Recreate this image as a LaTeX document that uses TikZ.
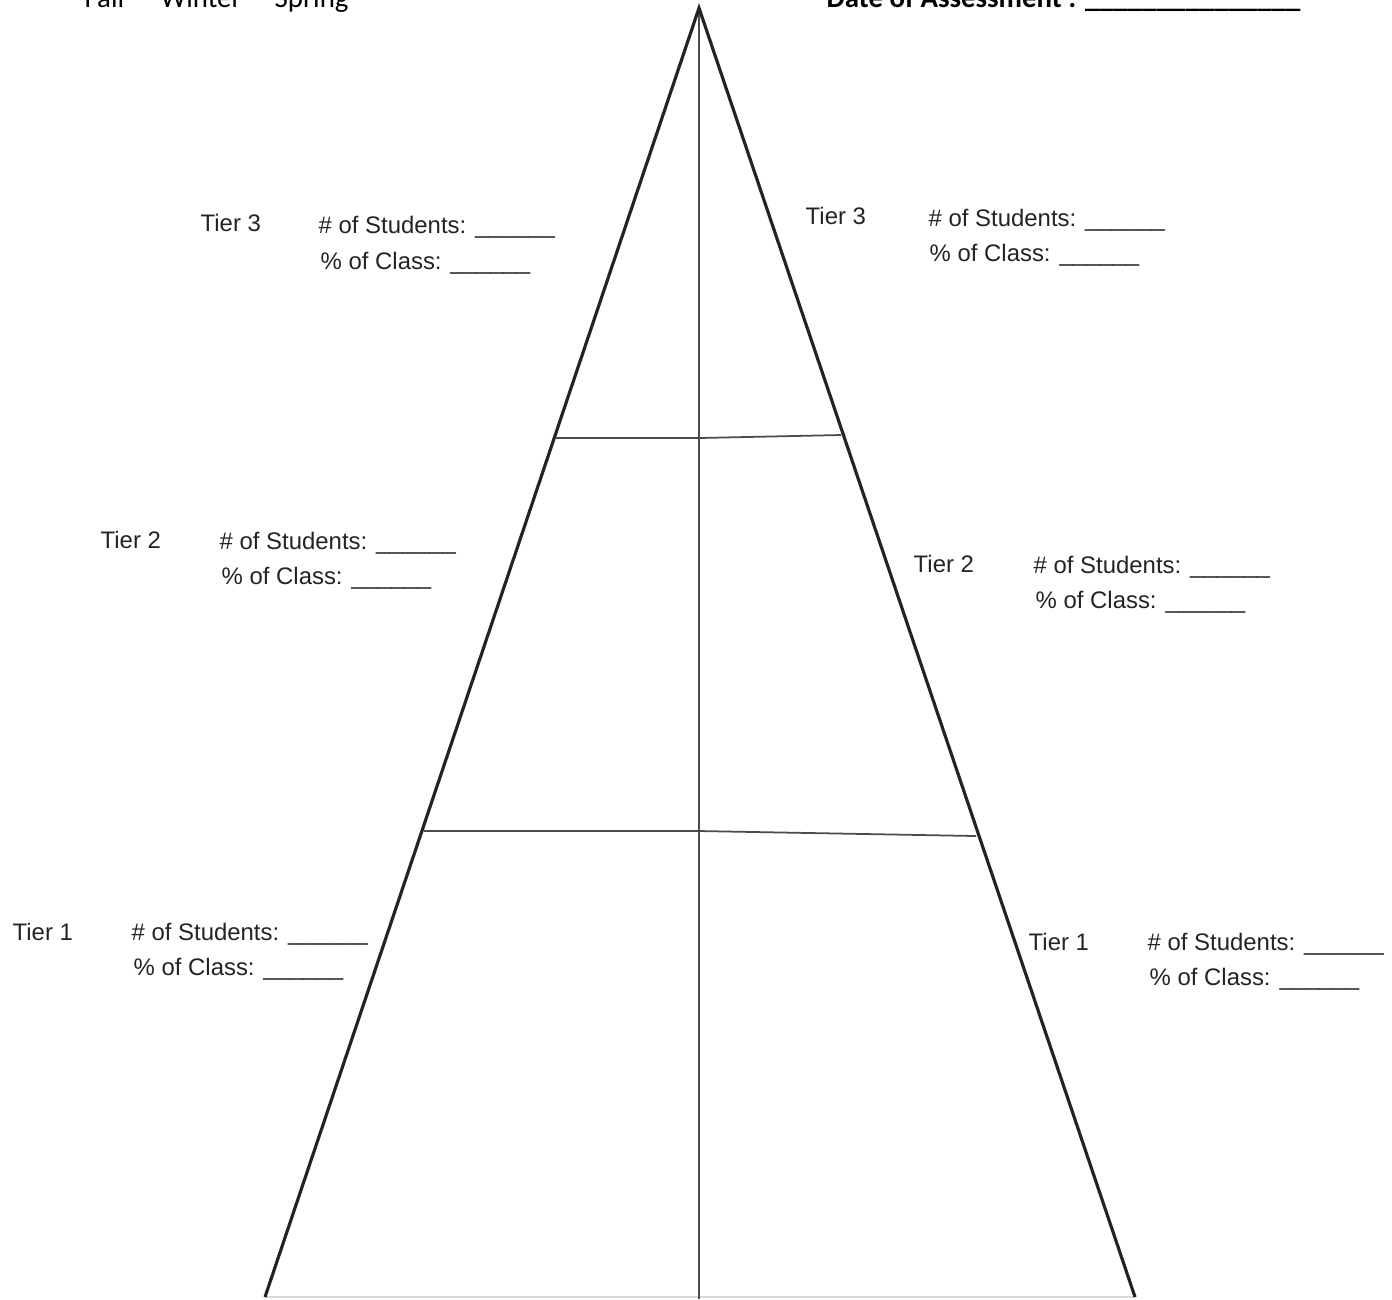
\documentclass[tikz,border=0pt]{standalone}
\usepackage{fontspec}
\setmainfont{Liberation Sans}
\newfontfamily\hdrfont{Carlito}
\usetikzlibrary{positioning}
\definecolor{inkgray}{RGB}{35,35,35}
\definecolor{rulegray}{RGB}{75,75,75}
\definecolor{faintgray}{RGB}{215,215,215}
\newcommand{\blankline}{\_\_\_\_\_\_}

\begin{document}
\begin{tikzpicture}[x=0.01cm, y=-0.01cm,
  side/.style={inkgray, line width=0.9pt},
  rung/.style={rulegray, line width=0.5pt},
  tierlbl/.style={anchor=base west, inner sep=0pt, text=inkgray, font=\fontsize{6.8pt}{8pt}\selectfont},
  hdr/.style={anchor=base west, inner sep=0pt, font=\hdrfont\fontsize{8.2pt}{10pt}\selectfont}]
  \useasboundingbox (0,0) rectangle (1392,1299);
  \clip (0,0) rectangle (1392,1299);

  % header, cut off at the top
  \node[hdr] (fall) at (84,7) {Fall};
  \node[hdr] (winter) at (160,7) {Winter};
  \node[hdr] (spring) at (274,7) {Spring};
  \node[hdr, font=\hdrfont\bfseries\fontsize{8.2pt}{10pt}\selectfont] (date) at (826,7)
    {Date of Assessment : \_\_\_\_\_\_\_\_\_\_\_\_\_\_\_};

  % pyramid
  \coordinate (apex) at (699,8);
  \coordinate (botL) at (265,1297);
  \coordinate (botR) at (1135,1297);
  \coordinate (botC) at (699,1299);
  \coordinate (midL) at (556,438);
  \coordinate (midC) at (699,438);
  \coordinate (midR) at (841,435);
  \coordinate (lowL) at (424,831);
  \coordinate (lowC) at (699,831);
  \coordinate (lowR) at (976,836);
  \draw[faintgray, line width=0.4pt] (botL) -- (botR);
  \draw[rulegray, line width=0.45pt] (apex) -- (botC);
  \draw[rung] (midL) -- (midC) -- (midR);
  \draw[rung] (lowL) -- (lowC) -- (lowR);
  \draw[side] (botL) -- (apex) -- (botR);

  % tier 3
  \node[tierlbl] (tierLiii) at (200,231) {Tier 3};
  \node[tierlbl] (studLiii) at (318,233) {\# of Students: \blankline};
  \node[tierlbl] (classLiii) at (320,269) {\% of Class: \blankline};
  \node[tierlbl] (tierRiii) at (805,224) {Tier 3};
  \node[tierlbl] (studRiii) at (928,226) {\# of Students: \blankline};
  \node[tierlbl] (classRiii) at (929,261) {\% of Class: \blankline};

  % tier 2
  \node[tierlbl] (tierLii) at (100,548) {Tier 2};
  \node[tierlbl] (studLii) at (219,549) {\# of Students: \blankline};
  \node[tierlbl] (classLii) at (221,584) {\% of Class: \blankline};
  \node[tierlbl] (tierRii) at (913,572) {Tier 2};
  \node[tierlbl] (studRii) at (1033,573) {\# of Students: \blankline};
  \node[tierlbl] (classRii) at (1035,608) {\% of Class: \blankline};

  % tier 1
  \node[tierlbl] (tierLi) at (12,940) {Tier 1};
  \node[tierlbl] (studLi) at (131,940) {\# of Students: \blankline};
  \node[tierlbl] (classLi) at (133,975) {\% of Class: \blankline};
  \node[tierlbl] (tierRi) at (1028,950) {Tier 1};
  \node[tierlbl] (studRi) at (1147,950) {\# of Students: \blankline};
  \node[tierlbl] (classRi) at (1149,985) {\% of Class: \blankline};
\end{tikzpicture}
\end{document}
